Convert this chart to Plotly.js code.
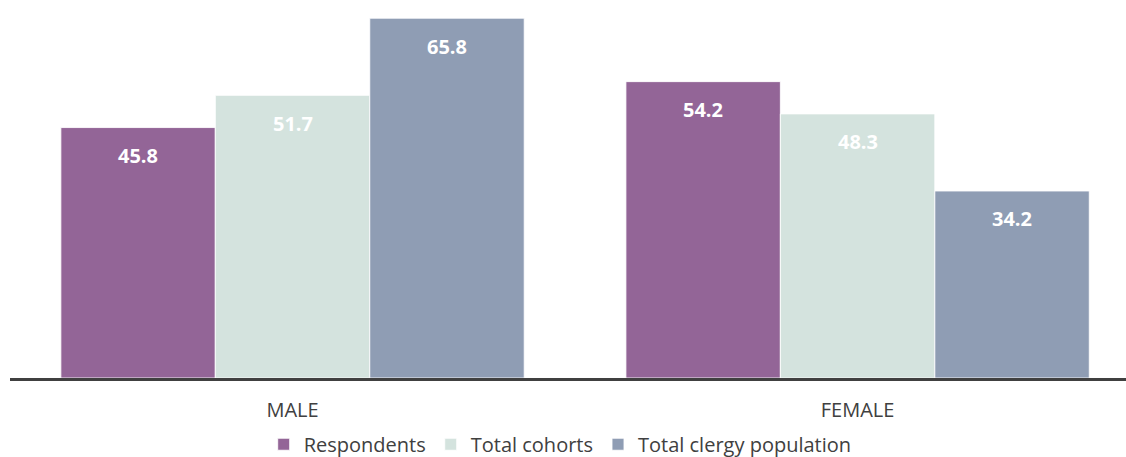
<!DOCTYPE html>
<html>
<head>
<meta charset="utf-8">
<script src="https://cdn.plot.ly/plotly-3.0.1.min.js"></script>
<style>
  html, body { margin: 0; padding: 0; background: #ffffff; }
  #chart { width: 1126px; height: 457px; }
</style>
</head>
<body>
<div id="chart"></div>
<script>
// Gender breakdown (%) for each group
const categories = ['MALE', 'FEMALE'];
const categoryPos = [0, 1];
const seriesNames = ['Respondents', 'Total cohorts', 'Total clergy population'];
const respondents = [45.8, 54.2];
const totalCohorts = [51.7, 48.3];
const totalClergy = [65.8, 34.2];

const seriesValues = [respondents, totalCohorts, totalClergy];
const seriesColors = ['#936597', '#d4e3de', '#8f9db4'];

const BARGAP = 0.18;
const slot = (1 - BARGAP) / seriesValues.length;

const traces = seriesValues.map((vals, i) => ({
  type: 'bar',
  name: seriesNames[i],
  x: categoryPos,
  y: vals,
  marker: { color: seriesColors[i], line: { color: 'rgba(255,255,255,0.85)', width: 1 } },
  hoverinfo: 'skip'
}));

// Value labels sit just below the top of each bar
const annotations = [];
seriesValues.forEach((vals, i) => {
  const offset = (i - (seriesValues.length - 1) / 2) * slot;
  vals.forEach((v, j) => {
    annotations.push({
      xref: 'x', yref: 'y',
      x: categoryPos[j] + offset,
      y: v,
      yshift: -28,
      yanchor: 'middle',
      xanchor: 'center',
      showarrow: false,
      text: v.toFixed(1),
      font: { family: 'Open Sans, sans-serif', size: 20, color: '#ffffff', weight: 'bold' }
    });
  });
});

const layout = {
  width: 1126,
  height: 457,
  margin: { l: 10, r: 0, t: 10, b: 79, autoexpand: false },
  paper_bgcolor: '#ffffff',
  plot_bgcolor: '#ffffff',
  barmode: 'group',
  bargap: BARGAP,
  bargroupgap: 0,
  font: { family: 'Open Sans, sans-serif', color: '#404040' },
  xaxis: {
    type: 'linear',
    range: [-0.5, 1.475],
    tickvals: categoryPos,
    ticktext: categories,
    tickfont: { size: 20, color: '#404040' },
    ticklabelstandoff: 12,
    showline: true,
    linecolor: '#404040',
    linewidth: 3,
    showgrid: false,
    zeroline: false,
    ticks: '',
    fixedrange: true
  },
  yaxis: {
    range: [0, 67.3],
    visible: false,
    showgrid: false,
    zeroline: false,
    fixedrange: true
  },
  showlegend: true,
  legend: {
    orientation: 'h',
    x: 0.493,
    xanchor: 'center',
    y: -0.18,
    yanchor: 'middle',
    font: { size: 20, color: '#404040' },
    traceorder: 'normal'
  },
  annotations: annotations
};

Plotly.newPlot('chart', traces, layout, { displayModeBar: false, staticPlot: true });
</script>
</body>
</html>
